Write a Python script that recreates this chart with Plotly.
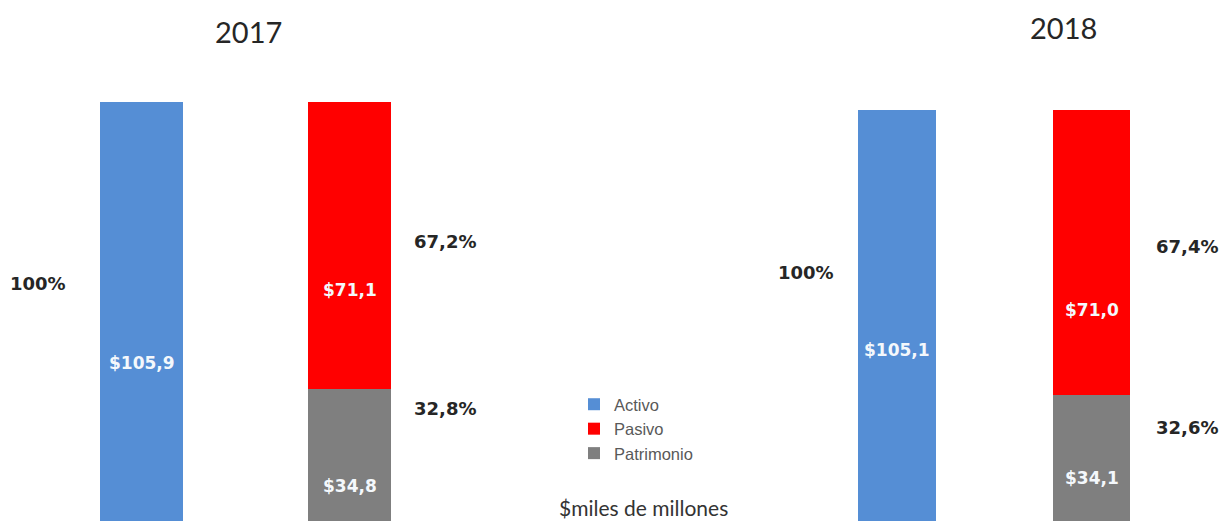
import plotly.graph_objects as go

years = ["2017", "2018"]
categories = ["Activo", "Pasivo"]
activo = [105.9, 105.1]
pasivo = [71.1, 71.0]
patrimonio = [34.8, 34.1]
pct_activo = ["100%", "100%"]
pct_pasivo = ["67,2%", "67,4%"]
pct_patrimonio = ["32,8%", "32,6%"]

BLUE = "#558ED5"
RED = "#FF0000"
GRAY = "#7F7F7F"
TITLE_FONT = "Lato, 'Open Sans', sans-serif"
BOLD_FONT = "'DejaVu Sans', Verdana, sans-serif"

W, H = 1232, 521
OFF = 8  # margine del body della pagina


def px(xs):
    return (xs - OFF) / W


def py(ys):
    return 1 - (ys - OFF) / H


def money(v):
    return "$" + f"{v:.1f}".replace(".", ",")


fig = go.Figure()

axes = [("x", "y"), ("x2", "y2")]
for k, (xa, ya) in enumerate(axes):
    show = k == 0
    fig.add_trace(go.Bar(
        x=[categories[0]], y=[activo[k]], name="Activo",
        marker=dict(color=BLUE, line=dict(width=0)),
        xaxis=xa, yaxis=ya, showlegend=show, legendrank=1,
    ))
    fig.add_trace(go.Bar(
        x=[categories[1]], y=[patrimonio[k]], name="Patrimonio",
        marker=dict(color=GRAY, line=dict(width=0)),
        xaxis=xa, yaxis=ya, showlegend=show, legendrank=3,
    ))
    fig.add_trace(go.Bar(
        x=[categories[1]], y=[pasivo[k]], name="Pasivo",
        marker=dict(color=RED, line=dict(width=0)),
        xaxis=xa, yaxis=ya, showlegend=show, legendrank=2,
    ))

# posizioni delle etichette in coordinate degli assi
lab_pos = [
    dict(act=41.2, pas=59.3, pat=10.7, p100=(-0.5, 61.0), p_pas=(1.459, 71.4), p_pat=(1.459, 30.0)),
    dict(act=45.3, pas=55.3, pat=13.4, p100=(-0.468, 64.5), p_pas=(1.492, 71.2), p_pat=(1.492, 25.9)),
]

annotations = []
for k, (xa, ya) in enumerate(axes):
    lp = lab_pos[k]
    white = dict(family=BOLD_FONT, size=17, color="#F4F8FC", weight="bold")
    dark = dict(family=BOLD_FONT, size=18, color="#262626", weight="bold")
    annotations += [
        dict(x=0, y=lp["act"], xref=xa, yref=ya, text=money(activo[k]),
             showarrow=False, font=white),
        dict(x=1, y=lp["pas"], xref=xa, yref=ya, text=money(pasivo[k]),
             showarrow=False, font=white),
        dict(x=1, y=lp["pat"], xref=xa, yref=ya, text=money(patrimonio[k]),
             showarrow=False, font=white),
        dict(x=lp["p100"][0], y=lp["p100"][1], xref=xa, yref=ya, text=pct_activo[k],
             showarrow=False, font=dark),
        dict(x=lp["p_pas"][0], y=lp["p_pas"][1], xref=xa, yref=ya, text=pct_pasivo[k],
             showarrow=False, font=dark),
        dict(x=lp["p_pat"][0], y=lp["p_pat"][1], xref=xa, yref=ya, text=pct_patrimonio[k],
             showarrow=False, font=dark),
    ]

title_pos = [(248, 31), (1063, 27)]
for k, yr in enumerate(years):
    annotations.append(dict(
        x=px(title_pos[k][0]), y=py(title_pos[k][1]), xref="paper", yref="paper",
        text=yr, showarrow=False, xanchor="center", yanchor="middle", borderpad=0,
        font=dict(family=TITLE_FONT, size=29, color="#262626"),
    ))

annotations.append(dict(
    x=px(643), y=py(507), xref="paper", yref="paper",
    text="$miles de millones", showarrow=False, xanchor="center", yanchor="middle",
    font=dict(family=TITLE_FONT, size=21, color="#333333"),
))

hidden_x = dict(type="category", categoryarray=categories, range=[-0.5, 1.5],
                showgrid=False, zeroline=False, showticklabels=False, showline=False)
hidden_y = dict(showgrid=False, zeroline=False, showticklabels=False, showline=False)

fig.update_layout(
    width=W, height=H,
    barmode="stack", bargap=0.6,
    paper_bgcolor="white", plot_bgcolor="white",
    margin=dict(l=0, r=0, t=0, b=0),
    xaxis=dict(hidden_x, domain=[px(37.5), px(453.5)], anchor="y"),
    yaxis=dict(hidden_y, range=[0.0, 129.2], domain=[0, 1], anchor="x"),
    xaxis2=dict(hidden_x, domain=[px(799.75), px(1188.75)], anchor="y2"),
    yaxis2=dict(hidden_y, range=[0.7, 130.5], domain=[0, 1], anchor="x2"),
    showlegend=True,
    legend=dict(
        x=px(574), y=py(387), xanchor="left", yanchor="top",
        traceorder="normal", tracegroupgap=0,
        font=dict(family="'Liberation Sans', Arial, sans-serif", size=16.5, color="#595959"),
        bgcolor="rgba(0,0,0,0)",
    ),
    annotations=annotations,
)

fig.write_html("out.html")
